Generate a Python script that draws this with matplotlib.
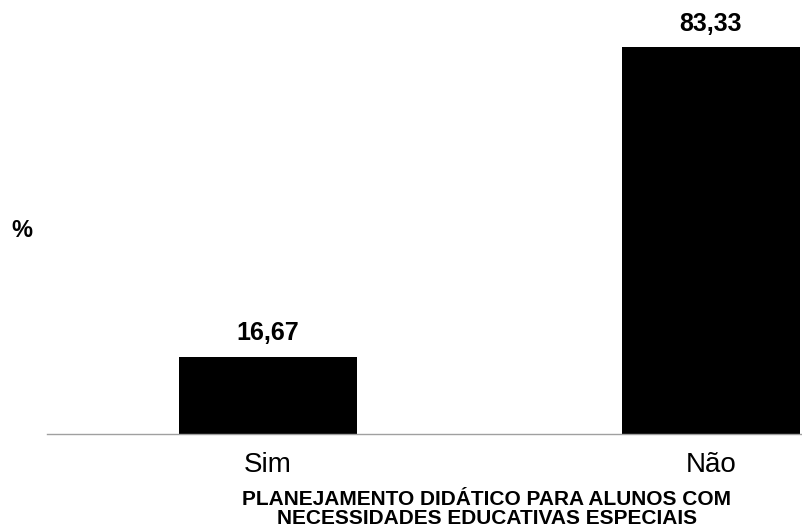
import matplotlib
matplotlib.use('Agg')
import matplotlib.pyplot as plt

categories = ['Sim', 'Não']
values = [16.67, 83.33]
value_labels = ['16,67', '83,33']
title_lines = ['PLANEJAMENTO DIDÁTICO PARA ALUNOS COM',
               'NECESSIDADES EDUCATIVAS ESPECIAIS']

plt.rcParams['font.family'] = ['Liberation Sans', 'DejaVu Sans']

fig = plt.figure(figsize=(8.02, 5.31), dpi=100)
ax = fig.add_axes([47 / 802, 1 - 434 / 531, 1 - 47 / 802, 434 / 531])

x = [0, 1]
bars = ax.bar(x, values, width=0.4, color='black')

ax.set_xlim((47 - 268) / 443, (802 - 268) / 443)
ax.set_ylim(0, 434 / 4.644)

for bar, lab in zip(bars, value_labels):
    ax.annotate(lab, xy=(bar.get_x() + bar.get_width() / 2, bar.get_height()),
                xytext=(0, 8), textcoords='offset points',
                ha='center', va='bottom', fontsize=18, fontweight='bold')

for side in ['top', 'right', 'left']:
    ax.spines[side].set_visible(False)
ax.spines['bottom'].set_color('#a0a0a0')
ax.spines['bottom'].set_linewidth(1)
ax.set_yticks([])
ax.set_xticks(x)
ax.set_xticklabels(categories, fontsize=20)
ax.tick_params(axis='x', length=0, pad=13)

fig.text(22 / 802, 1 - 230 / 531, '%', fontsize=17, fontweight='bold', ha='center', va='center')

# two-line category title under the axis
for i, line in enumerate(title_lines):
    fig.text(487 / 802, 1 - (505 + 19 * i) / 531, line,
             fontsize=15, fontweight='bold', ha='center', va='baseline')

plt.savefig('out.png', dpi=100)
plt.close()
